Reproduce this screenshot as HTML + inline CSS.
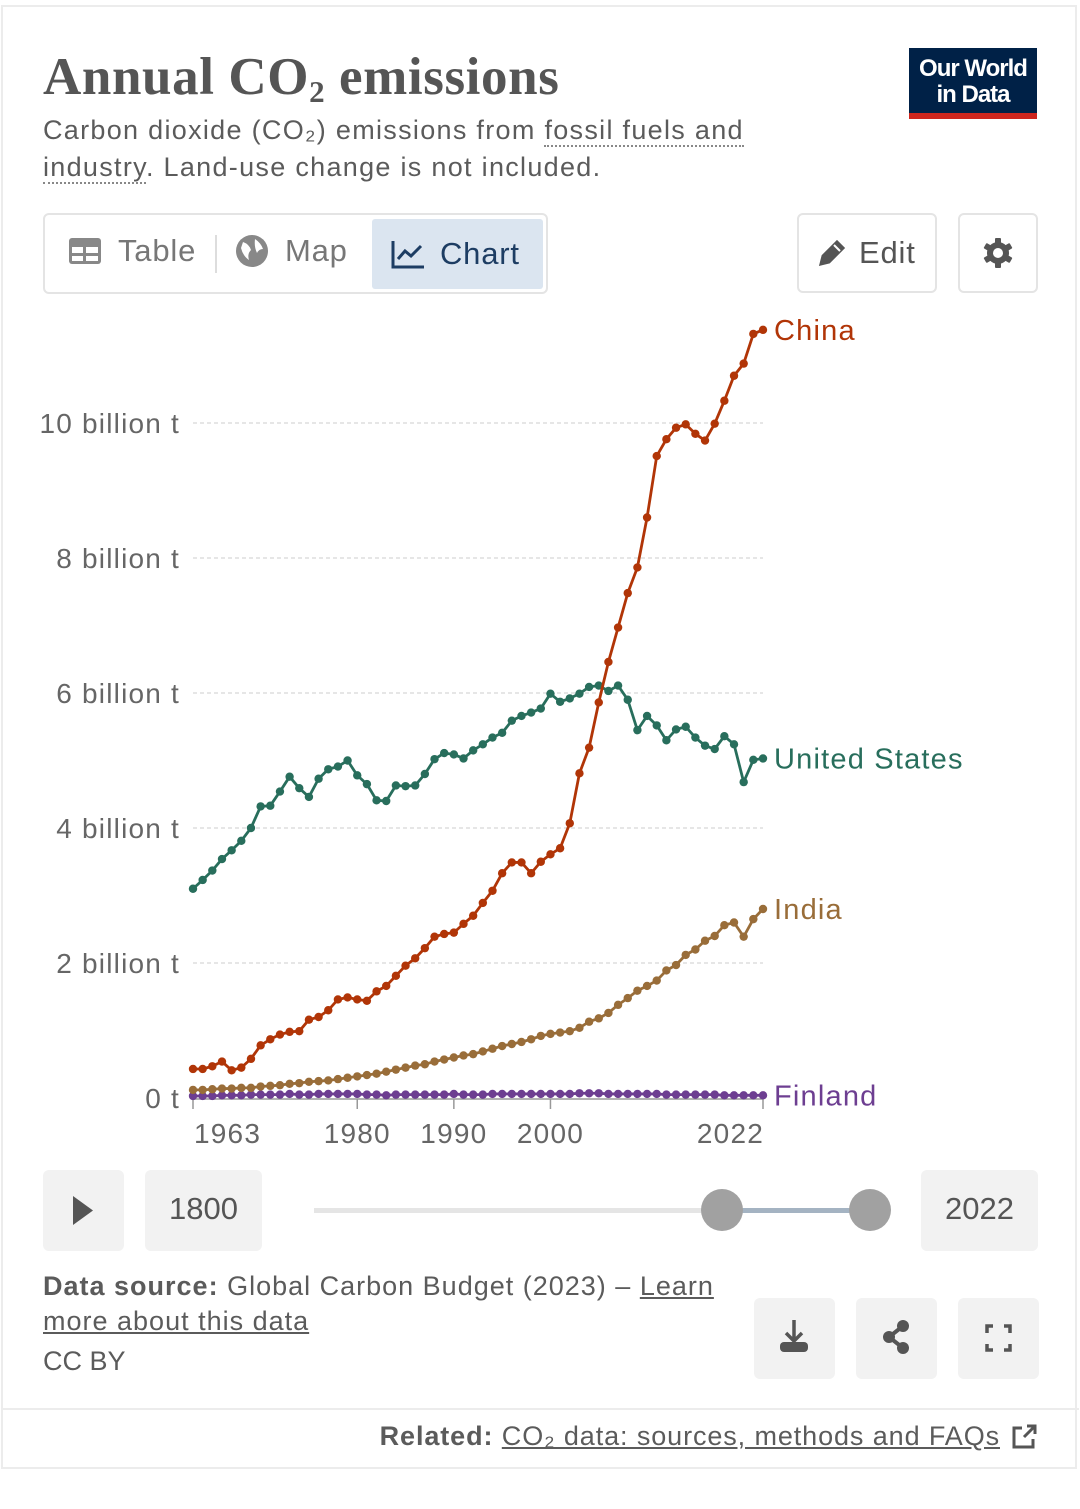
<!DOCTYPE html>
<html><head><meta charset="utf-8">
<style>
body{margin:0;width:1080px;height:1509px;background:#fff;font-family:"Liberation Sans",sans-serif;color:#5b5b5b;position:relative;overflow:hidden}
.abs{position:absolute}
.btn{position:absolute;background:#f2f2f2;border-radius:6px}
</style></head><body>
<div class="abs" style="left:1px;top:5px;width:1076px;height:1464px;border:2px solid #ececec;box-sizing:border-box"></div>
<div class="abs" style="left:1px;top:1408px;width:1078px;height:2px;background:#ececec"></div>

<div class="abs" style="left:43px;top:47px;font-family:'Liberation Serif',serif;font-size:53px;font-weight:bold;color:#555;letter-spacing:0.6px">Annual CO<sub style="font-size:31px;vertical-align:-8px">2</sub> emissions</div>
<div class="abs" style="left:43px;top:112px;width:740px;font-size:27px;line-height:37px;color:#5b5b5b;letter-spacing:1.3px">Carbon dioxide (CO₂) emissions from <span style="border-bottom:2px dotted #888">fossil fuels and industry</span>. Land-use change is not included.</div>

<div class="abs" style="left:909px;top:48px;width:128px;height:71px;background:#002147;color:#fff;font-size:24px;line-height:26px;text-align:center;font-weight:bold;letter-spacing:-1px;box-sizing:border-box;padding-top:8px;border-bottom:6px solid #ce261e">Our World<br>in Data</div>

<div class="abs" style="left:43px;top:213px;width:505px;height:81px;border:2px solid #e4e4e4;border-radius:6px;box-sizing:border-box"></div>
<div class="abs" style="left:68px;top:233px;font-size:31px;color:#777;display:flex;align-items:center;letter-spacing:0.8px">
<svg width="34" height="28" style="margin-right:16px"><rect x="1" y="1" width="32" height="26" rx="3" fill="#888"/><g fill="#fff"><rect x="4" y="10" width="11" height="6"/><rect x="18" y="10" width="12" height="6"/><rect x="4" y="19" width="11" height="5"/><rect x="18" y="19" width="12" height="5"/></g></svg>Table</div>
<div class="abs" style="left:215px;top:235px;width:2px;height:38px;background:#ddd"></div>
<div class="abs" style="left:235px;top:233px;font-size:31px;color:#777;display:flex;align-items:center;letter-spacing:0.8px">
<svg width="34" height="34" style="margin-right:16px"><circle cx="17" cy="17" r="16" fill="#888"/><path d="M8 8 q6 2 8 8 q-4 4 -2 10 q-6 -4 -8 -12z M20 5 q6 4 8 10 q-4 0 -6 4 q-3 -6 -2 -14z" fill="#fff"/></svg>Map</div>
<div class="abs" style="left:372px;top:219px;width:171px;height:70px;background:#dbe5f0;border-radius:3px;font-size:31px;color:#1d3d63;display:flex;align-items:center;box-sizing:border-box;padding-left:19px;letter-spacing:0.8px">
<svg width="34" height="30" style="margin-right:15px"><path d="M2 2 V28 H33" stroke="#1d3d63" stroke-width="3" fill="none"/><path d="M7 20 L14 12 L20 17 L30 7" stroke="#1d3d63" stroke-width="3" fill="none"/></svg>Chart</div>

<div class="abs" style="left:797px;top:213px;width:140px;height:80px;border:2px solid #e4e4e4;border-radius:6px;box-sizing:border-box;font-size:31px;color:#555;display:flex;align-items:center;padding-left:18px;letter-spacing:0.8px">
<svg width="30" height="30" style="margin-right:12px"><path d="M4 26 L6 18 L20 4 L26 10 L12 24 Z" fill="#555" stroke="#555" stroke-width="3"/><path d="M17 7 L23 13" stroke="#fff" stroke-width="2"/></svg>Edit</div>
<div class="abs" style="left:958px;top:213px;width:80px;height:80px;border:2px solid #e4e4e4;border-radius:6px;box-sizing:border-box;display:flex;align-items:center;justify-content:center">
<svg width="32" height="32" viewBox="0 0 32 32"><g fill="#555"><circle cx="16" cy="16" r="11"/><rect x="13" y="1" width="6" height="30" rx="1"/><rect x="13" y="1" width="6" height="30" rx="1" transform="rotate(60 16 16)"/><rect x="13" y="1" width="6" height="30" rx="1" transform="rotate(120 16 16)"/></g><circle cx="16" cy="16" r="5" fill="#fff"/></svg></div>

<svg class="abs" style="left:0;top:300px" width="1080" height="860">
<g id="grid"></g><g id="series"></g><g id="labels"></g>
</svg>

<div class="btn" style="left:43px;top:1170px;width:81px;height:81px"><svg width="81" height="81"><path d="M30 26 L50 40.5 L30 55 Z" fill="#555"/></svg></div>
<div class="btn" style="left:145px;top:1170px;width:117px;height:81px;font-size:31px;line-height:78px;text-align:center;color:#555">1800</div>
<div class="abs" style="left:314px;top:1208px;width:408px;height:5px;background:#e5e5e5"></div>
<div class="abs" style="left:722px;top:1208px;width:148px;height:5px;background:#a4b3c2"></div>
<div class="abs" style="left:701px;top:1189px;width:42px;height:42px;border-radius:50%;background:#a1a1a1"></div>
<div class="abs" style="left:849px;top:1189px;width:42px;height:42px;border-radius:50%;background:#a1a1a1"></div>
<div class="btn" style="left:921px;top:1170px;width:117px;height:81px;font-size:31px;line-height:78px;text-align:center;color:#555">2022</div>

<div class="abs" style="left:43px;top:1269px;width:700px;font-size:27px;line-height:35px;color:#5b5b5b;letter-spacing:1px"><b>Data source:</b> Global Carbon Budget (2023) – <u>Learn more about this data</u></div>
<div class="abs" style="left:43px;top:1346px;font-size:27px;color:#5b5b5b">CC BY</div>
<div class="btn" style="left:754px;top:1298px;width:81px;height:81px"><svg width="81" height="81"><path d="M40 22 V42 M32 35 L40 43 L48 35" stroke="#555" stroke-width="3.5" fill="none"/><rect x="26" y="44" width="28" height="10" rx="4" fill="#555"/></svg></div>
<div class="btn" style="left:856px;top:1298px;width:81px;height:81px"><svg width="81" height="81"><path d="M47 28 L33 39 L47 50" stroke="#555" stroke-width="4" fill="none"/><circle cx="47" cy="28" r="6" fill="#555"/><circle cx="33" cy="39" r="6" fill="#555"/><circle cx="47" cy="50" r="6" fill="#555"/></svg></div>
<div class="btn" style="left:958px;top:1298px;width:81px;height:81px"><svg width="81" height="81"><path d="M29 35 V28 H35 M46 28 H52 V35 M52 46 V52 H46 M35 52 H29 V46" stroke="#555" stroke-width="3.5" fill="none"/></svg></div>

<div class="abs" style="right:42px;top:1421px;font-size:27px;color:#5b5b5b;display:flex;align-items:center;letter-spacing:0.9px"><b>Related:</b>&nbsp;<u>CO₂ data: sources, methods and FAQs</u>
<svg width="28" height="28" style="margin-left:10px"><path d="M12 5 H4 V24 H23 V16" stroke="#555" stroke-width="3" fill="none"/><path d="M14 14 L25 3 M17 3 H25 V11" stroke="#555" stroke-width="3" fill="none"/></svg></div>

<script>
const years = [];
for (let y = 1963; y <= 2022; y++) years.push(y);
const china = [0.43,0.43,0.47,0.54,0.41,0.45,0.58,0.78,0.87,0.94,0.98,0.99,1.16,1.20,1.30,1.46,1.49,1.46,1.44,1.58,1.66,1.81,1.96,2.07,2.22,2.39,2.43,2.45,2.58,2.70,2.89,3.07,3.33,3.49,3.49,3.33,3.50,3.61,3.70,4.07,4.81,5.19,5.86,6.46,6.97,7.48,7.86,8.60,9.51,9.76,9.93,9.98,9.84,9.74,9.99,10.33,10.70,10.88,11.32,11.38];
const usa = [3.10,3.23,3.37,3.54,3.67,3.81,4.00,4.32,4.33,4.54,4.76,4.59,4.46,4.73,4.87,4.91,5.00,4.78,4.65,4.41,4.40,4.63,4.62,4.63,4.80,5.02,5.11,5.09,5.03,5.15,5.24,5.34,5.41,5.59,5.66,5.71,5.77,5.99,5.87,5.92,5.99,6.09,6.11,6.03,6.11,5.90,5.45,5.66,5.52,5.30,5.46,5.50,5.34,5.22,5.17,5.36,5.24,4.68,5.01,5.03];
const india = [0.12,0.12,0.13,0.14,0.14,0.15,0.15,0.17,0.18,0.19,0.21,0.22,0.24,0.25,0.26,0.28,0.30,0.32,0.34,0.36,0.39,0.42,0.45,0.48,0.50,0.54,0.57,0.60,0.63,0.65,0.69,0.73,0.77,0.80,0.83,0.87,0.92,0.95,0.97,0.99,1.04,1.13,1.18,1.26,1.38,1.48,1.59,1.66,1.74,1.89,1.97,2.12,2.20,2.33,2.40,2.56,2.60,2.39,2.65,2.80];
const finland = [0.03,0.03,0.03,0.04,0.04,0.04,0.05,0.05,0.05,0.05,0.06,0.05,0.05,0.06,0.06,0.06,0.06,0.06,0.05,0.05,0.04,0.05,0.05,0.05,0.05,0.05,0.05,0.06,0.05,0.05,0.05,0.06,0.06,0.06,0.06,0.06,0.06,0.06,0.06,0.06,0.07,0.07,0.07,0.06,0.06,0.06,0.06,0.06,0.06,0.05,0.05,0.05,0.05,0.05,0.05,0.04,0.04,0.04,0.04,0.04];
const yTicks = [0,2,4,6,8,10];
const yTickLabels = ["0 t","2 billion t","4 billion t","6 billion t","8 billion t","10 billion t"];
const xTicks = [1963,1980,1990,2000,2022];

const NS = "http://www.w3.org/2000/svg";
const X0 = 193, X1 = 763, Y0 = 798, PPB = 67.5; // svg top offset 300
const xs = y => X0 + (y - 1963) * (X1 - X0) / (2022 - 1963);
const ys = v => Y0 - v * PPB;
function mk(tag, attrs, parent) { const e = document.createElementNS(NS, tag); for (const k in attrs) e.setAttribute(k, attrs[k]); parent.appendChild(e); return e; }
const grid = document.getElementById('grid'), ser = document.getElementById('series'), lab = document.getElementById('labels');
const FONT = {'font-size': 28, 'font-family': 'Liberation Sans, sans-serif', 'letter-spacing': 1.2};

yTicks.forEach((v, i) => {
  if (v > 0) {
    const l = mk('line', {x1: X0, x2: X1, y1: ys(v), y2: ys(v), stroke: '#ddd', 'stroke-width': 1.5, 'stroke-dasharray': '4,3'}, grid);
    
    
  }
  const t = mk('text', Object.assign({x: 180, y: ys(v) + 10, 'text-anchor': 'end', fill: '#666'}, FONT), lab);
  t.textContent = yTickLabels[i];
  
  
});
const ax = mk('line', {x1: X0, x2: X1, y1: Y0 + 1, y2: Y0 + 1, stroke: '#999', 'stroke-width': 1.5}, grid);


xTicks.forEach(yr => {
  const tk = mk('line', {x1: xs(yr), x2: xs(yr), y1: Y0 + 1, y2: Y0 + 11, stroke: '#999', 'stroke-width': 1.5}, grid);
  
  
  let tx = xs(yr), anc = 'middle';
  if (yr === 1963) { tx = xs(yr) + 1; anc = 'start'; }
  if (yr === 2022) { tx = xs(yr) + 1; anc = 'end'; }
  const t = mk('text', Object.assign({x: tx, y: Y0 + 45, 'text-anchor': anc, fill: '#666'}, FONT), lab);
  t.textContent = yr;
  
  
});

const series = [
  {name: 'Finland', data: finland, color: '#6d3e91', key: 'finland'},
  {name: 'India', data: india, color: '#996d39', key: 'india'},
  {name: 'United States', data: usa, color: '#286e5c', key: 'united-states'},
  {name: 'China', data: china, color: '#b13507', key: 'china'}
];
series.forEach(s => {
  const g = mk('g', {}, ser);
  
  
  const pts = s.data.map((v, i) => xs(years[i]) + ',' + ys(v)).join(' ');
  mk('polyline', {points: pts, fill: 'none', stroke: s.color, 'stroke-width': 2.8, 'stroke-linejoin': 'round'}, g);
  s.data.forEach((v, i) => {
    const c = mk('circle', {cx: xs(years[i]), cy: ys(v), r: 4.2, fill: s.color}, g);
    
    
  });
  const last = s.data[s.data.length - 1];
  const t = mk('text', Object.assign({x: X1 + 11, y: ys(last) + 10, fill: s.color}, FONT, {'font-size': 29}), lab);
  t.textContent = s.name;
  
  
});
</script>
</body></html>
